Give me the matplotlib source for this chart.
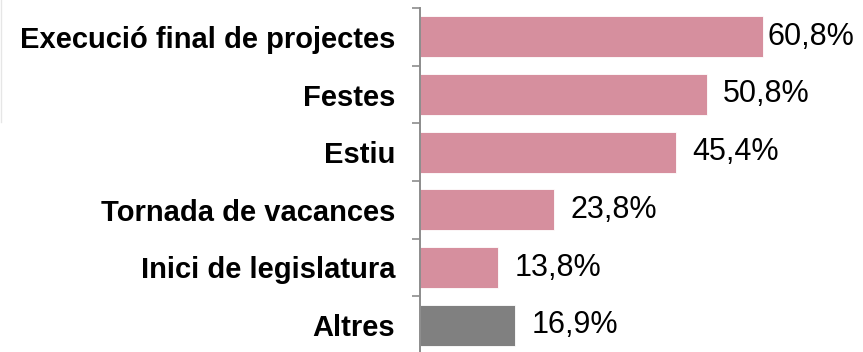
import matplotlib.pyplot as plt
from matplotlib.lines import Line2D
import numpy as np

plt.rcParams['font.family'] = ['Liberation Sans', 'DejaVu Sans']

categories = ["Execució final de projectes", "Festes", "Estiu",
              "Tornada de vacances", "Inici de legislatura", "Altres"]
values = [60.8, 50.8, 45.4, 23.8, 13.8, 16.9]
colors = ["#d68f9e"] * 5 + ["#808080"]
# label gap in points (the longest bar gets a tighter label)
label_gap = [3, 12, 12, 12, 12, 12]

fig = plt.figure(figsize=(8.63, 3.52), dpi=100)
ax = fig.add_axes([420 / 863, -2 / 352, 443 / 863, 346 / 352])

y = np.arange(len(categories))
ax.barh(y, values, height=0.71, color=colors, edgecolor="white", linewidth=0.6)

for yi, v, g in zip(y, values, label_gap):
    ax.annotate(f"{v:.1f}%".replace(".", ","), (v, yi), xytext=(g, 0),
                textcoords="offset points", va="center", ha="left",
                fontsize=22, color="black")

ax.set_xlim(0, 443 / 5.64)
ax.set_ylim(len(categories) - 0.5, -0.5)

ax.set_yticks(y)
ax.set_yticklabels(categories, fontsize=21, fontweight="bold")
ax.set_yticks(np.arange(-0.5, len(categories)), minor=True)
ax.tick_params(axis="y", which="major", length=0, pad=18)
ax.tick_params(axis="y", which="minor", length=6, width=1.2, color="#8c8c8c")
ax.set_xticks([])

for s in ["top", "right", "bottom"]:
    ax.spines[s].set_visible(False)
ax.spines["left"].set_color("#8c8c8c")
ax.spines["left"].set_linewidth(1.4)

# faint frame edge on the left
fig.add_artist(Line2D([0.5 / 863, 0.5 / 863], [1, 1 - 122 / 352],
                      color="#e6e6e6", linewidth=1.0))

fig.savefig("out.png", dpi=100)
